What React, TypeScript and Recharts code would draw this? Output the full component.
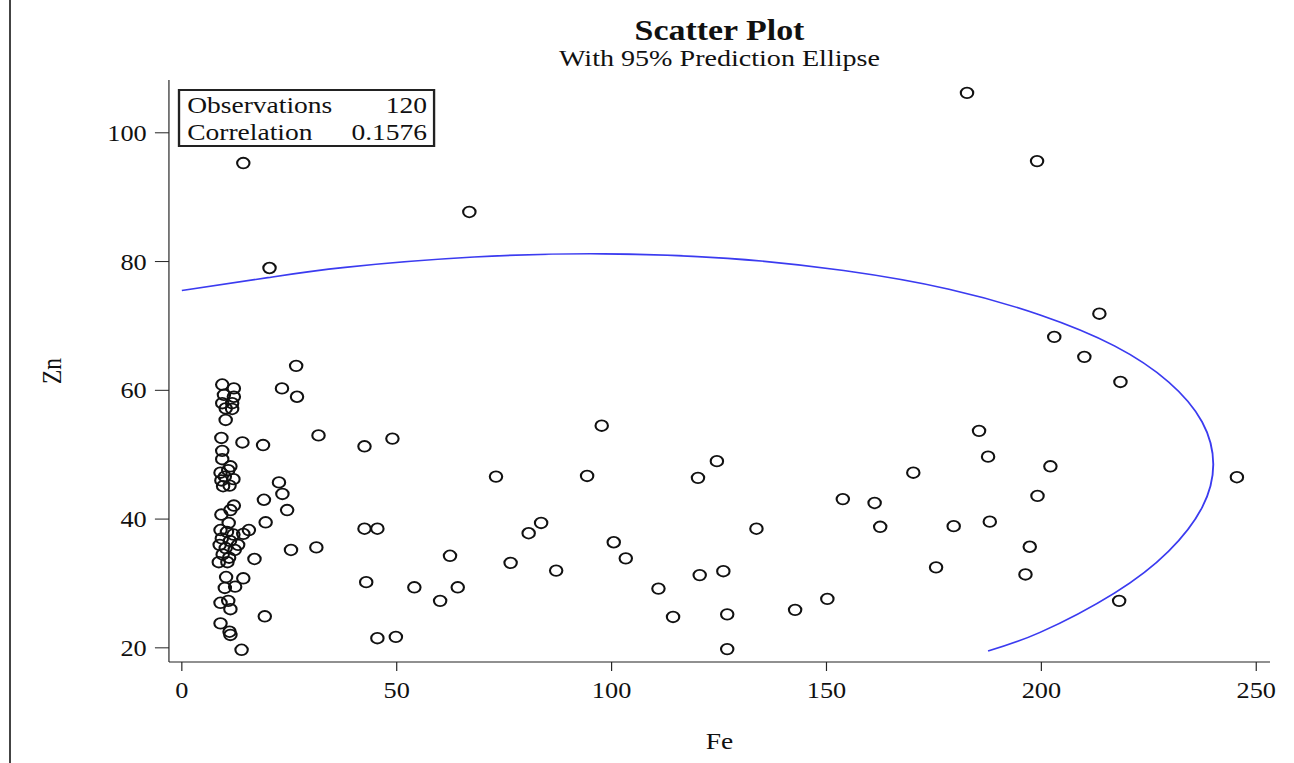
import { ReferenceArea, Scatter, ScatterChart, XAxis, YAxis } from "recharts";

// Fe / Zn pairs
const lowFeCluster: [number, number][] = [
  [26.6, 63.8], [9.4, 60.9], [12.1, 60.3], [23.3, 60.3], [26.8, 59.0], [9.8, 59.3],
  [12.1, 59.0], [9.4, 58.0], [11.7, 58.0], [10.2, 57.2], [11.7, 57.1], [10.2, 55.4],
  [31.8, 53.0], [9.2, 52.6], [14.1, 51.9], [18.9, 51.5], [9.4, 50.6], [9.4, 49.3],
  [11.3, 48.2], [9.0, 47.2], [10.0, 46.6], [9.6, 45.1], [11.1, 45.2], [10.8, 47.6],
  [12.0, 46.2], [9.2, 46.0], [22.6, 45.7], [23.4, 43.9], [19.1, 43.0], [24.5, 41.4],
  [12.1, 42.1], [11.3, 41.4], [9.2, 40.7], [10.9, 39.4], [19.5, 39.5], [15.6, 38.3],
  [14.3, 37.7], [13.1, 36.0], [25.4, 35.2], [31.3, 35.6], [16.9, 33.8], [8.6, 33.3],
  [10.6, 33.3], [9.0, 38.3], [10.5, 38.0], [12.0, 37.6], [9.3, 37.0], [11.2, 36.6],
  [8.8, 36.0], [10.2, 35.5], [12.3, 35.2], [9.5, 34.5], [11.0, 34.0], [10.3, 31.0],
  [14.3, 30.8], [10.0, 29.3], [12.4, 29.5], [9.0, 27.0], [10.8, 27.3], [11.3, 26.0],
  [19.3, 24.9], [9.0, 23.8], [11.1, 22.5], [11.3, 22.0], [13.9, 19.7],
];

const midFeGroup: [number, number][] = [
  [42.5, 51.3], [49.0, 52.5], [97.7, 54.5], [73.1, 46.6], [94.3, 46.7], [124.5, 49.0],
  [120.1, 46.4], [133.7, 38.5], [42.5, 38.5], [45.5, 38.5], [83.6, 39.4], [80.7, 37.8],
  [100.5, 36.4], [103.3, 33.9], [62.4, 34.3], [76.5, 33.2], [87.1, 32.0], [42.9, 30.2],
  [54.1, 29.4], [64.2, 29.4], [60.1, 27.3], [110.9, 29.2], [120.5, 31.3], [126.0, 31.9],
  [114.3, 24.8], [126.9, 25.2], [126.9, 19.8], [142.7, 25.9], [150.2, 27.6], [45.5, 21.5],
  [49.8, 21.7],
];

const highFeGroup: [number, number][] = [
  [185.5, 53.7], [187.6, 49.7], [202.1, 48.2], [170.2, 47.2], [245.5, 46.5], [153.8, 43.1],
  [161.2, 42.5], [199.1, 43.6], [162.5, 38.8], [179.6, 38.9], [188.0, 39.6], [197.3, 35.7],
  [175.5, 32.5], [196.3, 31.4], [218.1, 27.3],
];

const upperPoints: [number, number][] = [
  [182.7, 106.2], [14.3, 95.3], [199.0, 95.6], [66.9, 87.7], [20.4, 79.0], [213.5, 71.9],
  [203.0, 68.3], [210.0, 65.2], [218.4, 61.3],
];

// points traced along the blue prediction ellipse
const ellipseTrace: [number, number][] = [
  [0, 75.5], [20, 77.5], [38, 79.1], [68, 80.7], [98, 81.2], [127, 80.5], [154, 78.6],
  [178.5, 75.7], [199.7, 71.7], [217, 66.9], [229.6, 61.3], [237.4, 55.1], [240, 48.5],
  [237.4, 41.8], [229.6, 35.0], [217, 28.5], [199.7, 22.4], [187.6, 19.5],
];

const xTicks = [0, 50, 100, 150, 200, 250];
const yTicks = [20, 40, 60, 80, 100];

const toRows = (list: [number, number][]) => list.map(([fe, zn]) => ({ fe, zn }));
const observations = toRows([...lowFeCluster, ...midFeGroup, ...highFeGroup, ...upperPoints]);
const ellipse = toRows(ellipseTrace);

// the source image is stretched sideways, so the whole chart is scaled on x
const STRETCH = 1.17;
const W = 1294 / STRETCH;
const H = 763;
const FONT = "'Liberation Serif', 'Times New Roman', serif";
const PLOT_LEFT = 144.4;
const PLOT_RIGHT_GAP = 20.5;

const Ring = (props: any) => {
  const { cx, cy } = props;
  if (cx == null || cy == null) return <g />;
  return <circle cx={cx} cy={cy} r={5.3} fill="none" stroke="#111" strokeWidth={1.8} />;
};

export default function App() {
  const plotWidth = W - PLOT_LEFT - PLOT_RIGHT_GAP;
  return (
    <div
      style={{
        position: "absolute",
        left: 0,
        top: 0,
        width: 1294,
        height: H,
        background: "#fff",
        overflow: "hidden",
        fontFamily: FONT,
        color: "#111",
      }}
    >
      <div style={{ position: "absolute", left: 9, top: 0, width: 2, height: H, background: "#444" }} />
      <div
        style={{
          position: "absolute",
          left: 0,
          top: 0,
          width: W,
          height: H,
          transform: `scaleX(${STRETCH})`,
          transformOrigin: "0 0",
        }}
      >
        <div
          style={{
            position: "absolute",
            left: PLOT_LEFT,
            width: plotWidth,
            top: 13,
            textAlign: "center",
            fontWeight: "bold",
            fontSize: 29,
            lineHeight: "34px",
          }}
        >
          Scatter Plot
        </div>
        <div
          style={{
            position: "absolute",
            left: PLOT_LEFT,
            width: plotWidth,
            top: 44,
            textAlign: "center",
            fontSize: 24,
            lineHeight: "28px",
          }}
        >
          With 95% Prediction Ellipse
        </div>

        <ScatterChart
          width={W}
          height={H}
          margin={{ top: 80, right: PLOT_RIGHT_GAP, bottom: 0, left: 0 }}
          style={{ fontFamily: FONT }}
        >
          <XAxis
            type="number"
            dataKey="fe"
            domain={[-3, 253.2]}
            ticks={xTicks}
            allowDataOverflow
            height={101}
            tickSize={9}
            tickMargin={11}
            stroke="#222"
            tick={{ fill: "#111", fontSize: 22.5 }}
            label={{
              value: "Fe",
              content: ({ viewBox }: any) => (
                <text
                  x={viewBox.x + viewBox.width / 2}
                  y={viewBox.y + 79}
                  textAnchor="middle"
                  dominantBaseline="central"
                  fontSize={23.5}
                  fill="#111"
                >
                  Fe
                </text>
              ),
            }}
          />
          <YAxis
            type="number"
            dataKey="zn"
            domain={[17.8, 108.2]}
            ticks={yTicks}
            allowDataOverflow
            width={PLOT_LEFT}
            tickSize={12}
            tickMargin={7}
            stroke="#222"
            tick={{ fill: "#111", fontSize: 22.5 }}
            label={{
              value: "Zn",
              content: ({ viewBox }: any) => {
                const x = 44;
                const y = viewBox.y + viewBox.height / 2;
                return (
                  <text
                    x={x}
                    y={y}
                    transform={`rotate(-90, ${x}, ${y})`}
                    textAnchor="middle"
                    dominantBaseline="central"
                    fontSize={23.5}
                    fill="#111"
                  >
                    Zn
                  </text>
                );
              },
            }}
          />
          <ReferenceArea fill="none" stroke="#222" strokeWidth={1.6} ifOverflow="visible" />
          <Scatter
            data={ellipse}
            line={{ stroke: "#3b3bf0", strokeWidth: 1.6 }}
            lineJointType="natural"
            shape={() => <g />}
            isAnimationActive={false}
          />
          <Scatter data={observations} shape={Ring} isAnimationActive={false} />
        </ScatterChart>

        <div
          style={{
            position: "absolute",
            left: 152,
            top: 89,
            width: 220,
            height: 58,
            border: "2px solid #222",
            fontSize: 23.5,
            lineHeight: "27px",
            padding: "1px 5px 0 6px",
            boxSizing: "border-box",
          }}
        >
          <div style={{ display: "flex", justifyContent: "space-between" }}>
            <span>Observations</span>
            <span>120</span>
          </div>
          <div style={{ display: "flex", justifyContent: "space-between" }}>
            <span>Correlation</span>
            <span>0.1576</span>
          </div>
        </div>
      </div>
    </div>
  );
}
